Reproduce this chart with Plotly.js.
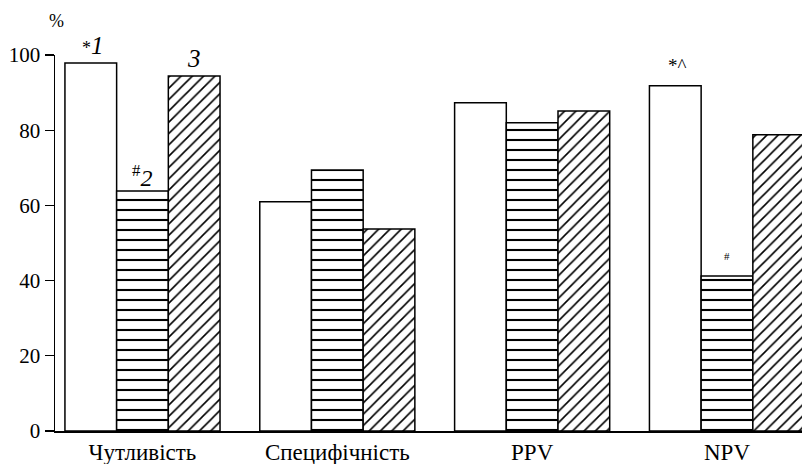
<!DOCTYPE html>
<html>
<head>
<meta charset="utf-8">
<script src="https://cdn.plot.ly/plotly-3.0.1.min.js"></script>
<style>html,body{margin:0;padding:0;background:#fff;}#chart{width:802px;height:464px;}</style>
</head>
<body>
<div id="chart"></div>
<script>
const categories = ["Чутливість", "Специфічність", "PPV", "NPV"];
const series1 = [97.9, 61.0, 87.3, 91.8];
const series2 = [63.8, 69.4, 82.0, 41.2];
const series3 = [94.4, 53.7, 85.1, 78.8];
const yTicks = [0, 20, 40, 60, 80, 100];

const FONT = "Times New Roman, Liberation Serif, DejaVu Serif, serif";
const line = {color: "black", width: 1.5};

const traces = [
  {type: "bar", x: categories, y: series1, name: "1",
   marker: {color: "white", line: line}},
  {type: "bar", x: categories, y: series2, name: "2",
   marker: {color: "white", line: {color: "black", width: 1.5},
            pattern: {shape: "-", size: 10, solidity: 0.21, fgcolor: "#000000", fgopacity: 1, bgcolor: "white", fillmode: "overlay"}}},
  {type: "bar", x: categories, y: series3, name: "3",
   marker: {color: "white", line: line,
            pattern: {shape: "/", size: 8, solidity: 0.2, fgcolor: "#000000", fgopacity: 1, bgcolor: "white", fillmode: "overlay"}}}
];

const off = 0.265;
const annotations = [
  {x: 0 - off, y: series1[0], xref: "x", yref: "y", text: "<span style='font-size:18px'>*</span><i>1</i>", showarrow: false,
   yanchor: "bottom", yshift: 2, xshift: 2, font: {family: FONT, size: 25, color: "black"}},
  {x: 0 + off, y: series3[0], xref: "x", yref: "y", text: "<i>3</i>", showarrow: false,
   yanchor: "bottom", yshift: 2, xshift: 0, font: {family: FONT, size: 25, color: "black"}},
  {x: 0, y: series2[0], xref: "x", yref: "y", text: "<sup>#</sup><i>2</i>", showarrow: false,
   yanchor: "bottom", yshift: -2, xshift: 0, font: {family: FONT, size: 24, color: "black"}},
  {x: 3 - off, y: series1[3], xref: "x", yref: "y", text: "*^", showarrow: false,
   yanchor: "bottom", yshift: 8, xshift: 2, font: {family: FONT, size: 19, color: "black"}},
  {x: 3, y: series2[3], xref: "x", yref: "y", text: "#", showarrow: false,
   yanchor: "bottom", yshift: 12, xshift: 0, font: {family: FONT, size: 11, color: "black"}},
  {x: 0, y: 1, xref: "paper", yref: "paper", text: "%", showarrow: false,
   xanchor: "center", yanchor: "bottom", xshift: 1, yshift: 22, font: {family: FONT, size: 18, color: "black"}}
];

const layout = {
  width: 802, height: 464,
  margin: {l: 55, r: 0, t: 55, b: 33},
  paper_bgcolor: "white", plot_bgcolor: "white",
  showlegend: false,
  barmode: "group", bargap: 0.204, bargroupgap: 0,
  font: {family: FONT, size: 21, color: "black"},
  xaxis: {type: "category", range: [-0.449, 3.385], showline: true, linecolor: "black", linewidth: 1.5,
          ticks: "", showgrid: false, zeroline: false, tickfont: {family: FONT, size: 23, color: "black"}},
  yaxis: {range: [0, 100], tickvals: yTicks, ticktext: yTicks.map(String), ticks: "outside", ticklen: 9,
          tickwidth: 1.2, tickcolor: "black", showline: true, linecolor: "black", linewidth: 1.5,
          showgrid: false, zeroline: false, tickfont: {family: FONT, size: 21, color: "black"}},
  annotations: annotations
};

Plotly.newPlot("chart", traces, layout, {staticPlot: true, displayModeBar: false});
</script>
</body>
</html>
